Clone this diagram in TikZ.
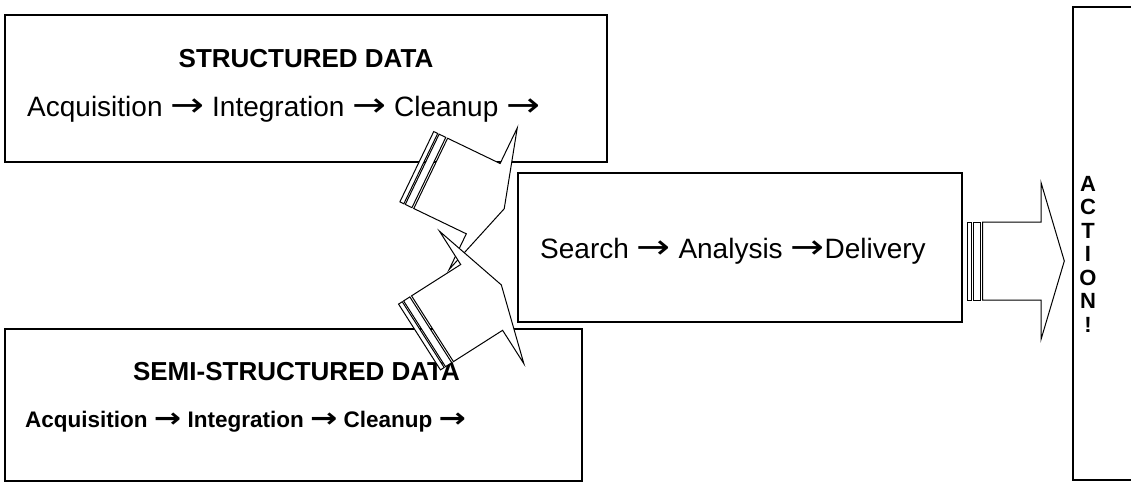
\documentclass[tikz,border=0pt]{standalone}
\usepackage{fontspec}
\setmainfont{Liberation Sans}
\newfontfamily\arrowfont{DejaVu Sans}
\newcommand{\stepto}{\scalebox{1.45}[1.2]{\arrowfont →}}
\usetikzlibrary{positioning, calc}

\begin{document}
\begin{tikzpicture}[
        x=1pt, y=-1pt,
        frame/.style={rectangle, draw=black, line width=1.3pt, fill=white, inner sep=0pt},
        headtext/.style={inner sep=0pt, anchor=base, font=\fontsize{26}{31}\selectfont\bfseries},
        steptext/.style={inner sep=0pt, anchor=base west, font=\fontsize{28}{34}\selectfont},
        boldsteps/.style={inner sep=0pt, anchor=base west, font=\fontsize{22.5}{27}\selectfont\bfseries},
        actiontext/.style={inner sep=0pt, align=center, font=\fontsize{22}{23.5}\selectfont\bfseries},
        stripearrow/.pic={
            \draw[line width=1pt, fill=white] (15.4,-39) -- (73.7,-39) -- (73.7,-78.5) -- (97,0)
                -- (73.7,78.5) -- (73.7,39) -- (15.4,39) -- cycle;
            \draw[line width=1pt, fill=white] (0,-39) rectangle (4.4,39);
            \draw[line width=1pt, fill=white] (6,-39) rectangle (13.4,39);
        }
    ]
        \useasboundingbox (0,0) rectangle (1131,485);

        % Source boxes
        \node[frame, minimum width=602pt, minimum height=147pt] (structured) at (306,88.5) {};
        \node[frame, minimum width=577pt, minimum height=152pt] (semi) at (293.5,405) {};
        \node[headtext] (structhead) at ($(structured.north)+(0,53)$) {STRUCTURED DATA};
        \node[steptext] (structsteps) at (27,116) {Acquisition \stepto{} Integration \stepto{} Cleanup \stepto};
        \node[headtext] (semihead) at ($(semi.north)+(3,52)$) {SEMI-STRUCTURED DATA};
        \node[boldsteps] (semisteps) at (25,427) {Acquisition \stepto{} Integration \stepto{} Cleanup \stepto};

        % Middle box
        \node[frame, minimum width=444pt, minimum height=149pt] (search) at (740,247.5) {};
        \node[steptext] (searchsteps) at (540,258) {Search \stepto{} Analysis \stepto Delivery};

        % Arrows
        \pic[rotate=-25.7] at (416.8,166.7) {stripearrow};
        \pic[rotate=32.5] at (419.5,337) {stripearrow};
        \pic at (967.3,261) {stripearrow};

        % Action box
        \node[frame, minimum width=80pt, minimum height=473pt] (action) at (1113,243.5) {};
        \node[actiontext] (actionword) at (1088,254) {A\\C\\T\\I\\O\\N\\!};
    \end{tikzpicture}
\end{document}
